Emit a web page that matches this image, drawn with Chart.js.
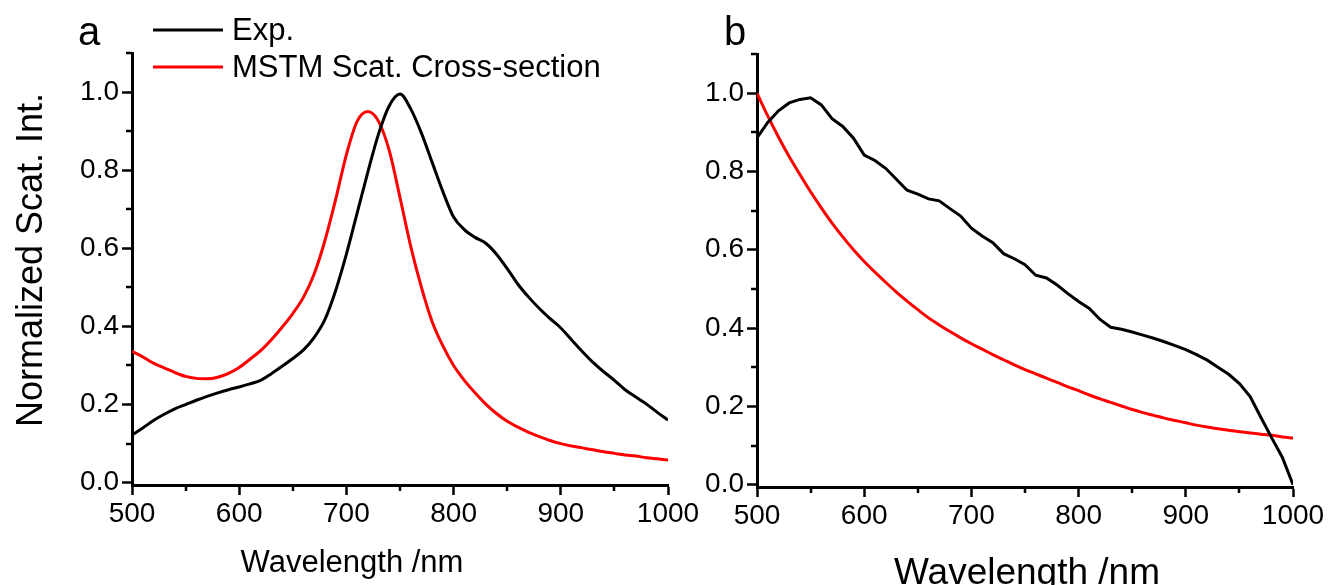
<!DOCTYPE html>
<html>
<head>
<meta charset="utf-8">
<script src="https://cdn.jsdelivr.net/npm/chart.js@4.4.1/dist/chart.umd.min.js"></script>
<style>
  html, body { margin: 0; padding: 0; background: #fff; }
  #wrap { position: relative; width: 1332px; height: 585px; overflow: hidden; }
  canvas { position: absolute; top: 0; }
</style>
</head>
<body>
<div id="wrap">
  <canvas id="chartA" width="702" height="585" style="left:0"></canvas>
  <canvas id="chartB" width="642" height="585" style="left:690px"></canvas>
</div>
<script>
// wavelength grid (nm), shared by every series
const wavelengths = [500, 510, 520, 530, 540, 550, 560, 570, 580, 590,
  600, 610, 620, 630, 640, 650, 660, 670, 680, 690,
  700, 710, 720, 730, 740, 750, 760, 770, 780, 790,
  800, 810, 820, 830, 840, 850, 860, 870, 880, 890,
  900, 910, 920, 930, 940, 950, 960, 970, 980, 990, 1000];

// panel a
const expA = [0.122, 0.140, 0.159, 0.175, 0.189, 0.200, 0.211, 0.221, 0.230, 0.238,
  0.245, 0.253, 0.262, 0.279, 0.298, 0.318, 0.340, 0.372, 0.418, 0.492,
  0.585, 0.690, 0.795, 0.893, 0.965, 0.995, 0.957, 0.895, 0.820, 0.745,
  0.680, 0.648, 0.628, 0.613, 0.585, 0.548, 0.508, 0.475, 0.446, 0.420,
  0.396, 0.366, 0.336, 0.308, 0.284, 0.262, 0.238, 0.219, 0.201, 0.180, 0.160];
const mstmA = [0.336, 0.322, 0.306, 0.294, 0.282, 0.272, 0.267, 0.266, 0.270, 0.280,
  0.295, 0.316, 0.338, 0.366, 0.398, 0.433, 0.475, 0.535, 0.620, 0.725,
  0.840, 0.925, 0.950, 0.925, 0.850, 0.730, 0.605, 0.500, 0.412, 0.350,
  0.300, 0.262, 0.230, 0.201, 0.177, 0.157, 0.142, 0.129, 0.118, 0.108,
  0.100, 0.094, 0.089, 0.084, 0.079, 0.075, 0.071, 0.068, 0.064, 0.061, 0.058];

// panel b
const expB = [0.886, 0.925, 0.955, 0.975, 0.984, 0.988, 0.970, 0.935, 0.915, 0.885,
  0.842, 0.828, 0.808, 0.780, 0.752, 0.742, 0.730, 0.725, 0.705, 0.686,
  0.655, 0.635, 0.618, 0.590, 0.577, 0.562, 0.535, 0.528, 0.510, 0.488,
  0.468, 0.450, 0.422, 0.402, 0.397, 0.390, 0.382, 0.374, 0.365, 0.355,
  0.345, 0.332, 0.318, 0.300, 0.282, 0.258, 0.225, 0.172, 0.120, 0.070, 0.000];
const mstmB = [1.000, 0.942, 0.888, 0.838, 0.792, 0.748, 0.707, 0.668, 0.633, 0.600,
  0.570, 0.543, 0.517, 0.492, 0.469, 0.447, 0.426, 0.408, 0.391, 0.375,
  0.360, 0.346, 0.332, 0.319, 0.306, 0.294, 0.283, 0.272, 0.261, 0.250,
  0.240, 0.229, 0.219, 0.210, 0.201, 0.192, 0.184, 0.177, 0.170, 0.164,
  0.158, 0.152, 0.147, 0.143, 0.139, 0.135, 0.132, 0.129, 0.126, 0.122, 0.119];

const seriesLabels = ['Exp.', 'MSTM Scat. Cross-section'];
const xTicks = [500, 600, 700, 800, 900, 1000];
const xMinorTicks = [550, 650, 750, 850, 950];
const yTicks = [0.0, 0.2, 0.4, 0.6, 0.8, 1.0];
const yMinorTicks = [0.1, 0.3, 0.5, 0.7, 0.9, 1.1];

const FONT = "'Liberation Sans', Arial, sans-serif";

const toPoints = (vals) => wavelengths.map((w, i) => ({ x: w, y: vals[i] }));

// short minor ticks, placed with the chart's own scales
const minorTicks = {
  id: 'minorTicks',
  afterDraw(chart) {
    const { ctx, chartArea } = chart;
    const x = chart.scales.x, y = chart.scales.y;
    ctx.save();
    ctx.strokeStyle = '#000';
    ctx.lineWidth = 2.5;
    ctx.beginPath();
    xMinorTicks.forEach(v => {
      const px = Math.round(x.getPixelForValue(v));
      ctx.moveTo(px, chartArea.bottom);
      ctx.lineTo(px, chartArea.bottom + 6);
    });
    yMinorTicks.forEach(v => {
      const py = Math.round(y.getPixelForValue(v));
      ctx.moveTo(chartArea.left, py);
      ctx.lineTo(chartArea.left - 6, py);
    });
    ctx.stroke();
    ctx.restore();
  }
};

// panel letter + axis titles
const textPlugin = (items) => ({
  id: 'panelText',
  afterDraw(chart) {
    const ctx = chart.ctx;
    items.forEach(t => {
      ctx.save();
      ctx.fillStyle = '#000';
      ctx.font = t.size + 'px ' + FONT;
      ctx.textAlign = t.align || 'center';
      ctx.textBaseline = 'alphabetic';
      ctx.translate(t.x, t.y);
      if (t.rot) ctx.rotate(t.rot);
      ctx.fillText(t.text, 0, 0);
      ctx.restore();
    });
  }
});

// legend for panel a
const legendPlugin = {
  id: 'lineLegend',
  afterDraw(chart) {
    const ctx = chart.ctx;
    const rows = [30, 67];
    chart.data.datasets.forEach((ds, i) => {
      ctx.save();
      ctx.strokeStyle = ds.borderColor;
      ctx.lineWidth = 3;
      ctx.beginPath();
      ctx.moveTo(153, rows[i]);
      ctx.lineTo(223, rows[i]);
      ctx.stroke();
      ctx.fillStyle = '#000';
      ctx.font = '31px ' + FONT;
      ctx.textBaseline = 'middle';
      ctx.fillText(ds.label, 232, rows[i] + 1);
      ctx.restore();
    });
  }
};

function makeChart(id, exp, mstm, box, expSmooth, extraPlugins) {
  return new Chart(document.getElementById(id), {
    type: 'line',
    data: {
      datasets: [
        { label: seriesLabels[0], data: toPoints(exp), borderColor: '#000000', borderWidth: 3,
          pointRadius: 0, tension: 0, cubicInterpolationMode: expSmooth ? 'monotone' : 'default' },
        { label: seriesLabels[1], data: toPoints(mstm), borderColor: '#ff0000', borderWidth: 3,
          pointRadius: 0, cubicInterpolationMode: 'monotone' }
      ]
    },
    options: {
      responsive: false,
      animation: false,
      events: [],
      layout: { padding: { top: box.top, left: 0, right: box.right, bottom: 0 } },
      plugins: { legend: { display: false }, tooltip: { enabled: false } },
      scales: {
        x: {
          type: 'linear', min: 500, max: 1000,
          afterBuildTicks: s => { s.ticks = xTicks.map(v => ({ value: v })); },
          afterFit: s => { s.height = box.xh; },
          border: { display: true, color: '#000', width: 3 },
          grid: { display: true, drawOnChartArea: false, drawTicks: true, tickLength: 10,
                  tickWidth: 2.5, tickColor: '#000' },
          ticks: { color: '#000', font: { family: FONT, size: 28 }, padding: 2,
                   maxRotation: 0, autoSkip: false, callback: v => String(v) }
        },
        y: {
          min: -0.006, max: 1.1,
          afterBuildTicks: s => { s.ticks = yTicks.map(v => ({ value: v })); },
          afterFit: s => { s.width = box.yw; },
          border: { display: true, color: '#000', width: 3 },
          grid: { display: true, drawOnChartArea: false, drawTicks: true, tickLength: 10,
                  tickWidth: 2.5, tickColor: '#000' },
          ticks: { color: '#000', font: { family: FONT, size: 28 }, padding: 3,
                   callback: v => Number(v).toFixed(1) }
        }
      }
    },
    plugins: [minorTicks].concat(extraPlugins)
  });
}

makeChart('chartA', expA, mstmA, { top: 53, right: 34, xh: 100, yw: 132 }, true, [
  legendPlugin,
  textPlugin([
    { text: 'a', x: 89, y: 45, size: 40 },
    { text: 'Wavelength /nm', x: 352, y: 572, size: 31 },
    { text: 'Normalized Scat. Int.', x: 42, y: 260, size: 36, rot: -Math.PI / 2 }
  ])
]);

makeChart('chartB', expB, mstmB, { top: 54, right: 39, xh: 98, yw: 67 }, false, [
  textPlugin([
    { text: 'b', x: 45, y: 45, size: 40 },
    { text: 'Wavelength /nm', x: 337, y: 584, size: 37 }
  ])
]);
</script>
</body>
</html>
